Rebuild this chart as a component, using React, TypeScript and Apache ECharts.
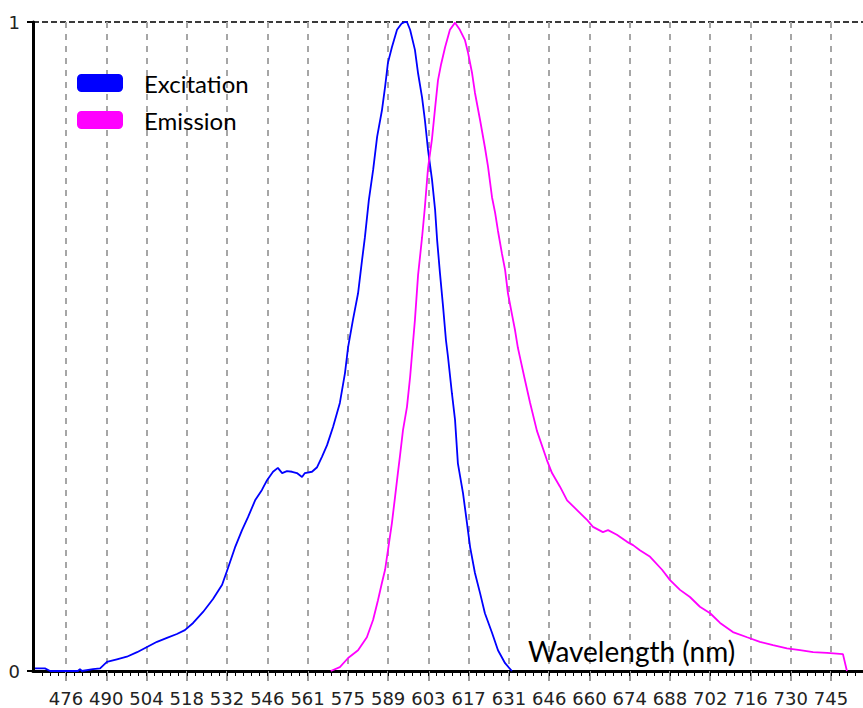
import React, { useEffect, useRef } from "react";
import * as echarts from "echarts";

// Tick labels along the wavelength axis (nm)
const tickLabels = [
  "476", "490", "504", "518", "532", "546", "561", "575", "589", "603",
  "617", "631", "646", "660", "674", "688", "702", "716", "730", "745",
];
const tickFirst = 476;
const tickLast = 745;
const xMin = 464.4;
const xMax = 756.25;
const yLabels = ["0", "1"];

// Excitation spectrum (wavelength nm, normalized intensity)
const excitationX = [
  465.1, 468.6, 470.4, 480.2, 480.9, 481.6, 485.5, 488.0, 490.4, 493.9, 497.4, 501.0, 504.5, 508.0,
  511.5, 515.0, 517.8, 520.7, 524.2, 527.7, 530.9, 533.0, 535.4, 537.9, 540.0, 542.5, 544.9, 546.7,
  548.8, 550.5, 552.0, 553.7, 555.5, 557.2, 559.0, 560.0, 562.5, 564.3, 566.0, 567.8, 569.9, 572.3,
  574.1, 575.2, 576.9, 578.7, 580.1, 581.1, 582.5, 584.0, 585.4, 587.1, 588.2, 589.2, 590.6, 592.4,
  594.1, 595.2, 595.9, 597.0, 598.7, 599.8, 601.2, 602.2, 603.3, 604.7, 605.8, 606.5, 607.5, 608.6,
  609.6, 610.3, 611.7, 612.8, 613.8, 615.6, 617.0, 618.1, 619.8, 621.6, 623.3, 625.8, 627.9, 630.4,
  632.8,
];
const excitationY = [
  0.004, 0.004, 0, 0, 0.003, 0, 0.003, 0.004, 0.014, 0.018, 0.022, 0.029, 0.037, 0.045,
  0.051, 0.057, 0.063, 0.074, 0.091, 0.111, 0.133, 0.159, 0.19, 0.217, 0.237, 0.263, 0.279, 0.294,
  0.307, 0.313, 0.305, 0.308, 0.307, 0.305, 0.299, 0.305, 0.307, 0.314, 0.33, 0.348, 0.376, 0.413,
  0.459, 0.499, 0.541, 0.582, 0.633, 0.668, 0.726, 0.772, 0.823, 0.864, 0.9, 0.937, 0.961, 0.988,
  0.998, 1.0, 1.0, 0.988, 0.957, 0.921, 0.884, 0.849, 0.803, 0.757, 0.71, 0.664, 0.613, 0.561,
  0.51, 0.485, 0.428, 0.387, 0.32, 0.274, 0.228, 0.191, 0.151, 0.12, 0.089, 0.059, 0.032, 0.012,
  0,
];

// Emission spectrum
const emissionX = [
  569.1, 572.3, 575.2, 578.7, 581.8, 584.0, 585.7, 587.1, 588.2, 589.2, 590.6, 591.7, 592.7, 593.4,
  594.5, 595.9, 597.0, 598.0, 598.7, 599.8, 601.2, 602.2, 603.3, 604.7, 605.8, 606.8, 607.9, 609.3,
  611.0, 612.8, 614.5, 616.3, 617.4, 618.8, 619.8, 621.6, 623.3, 624.4, 625.8, 626.9, 627.9, 629.3,
  630.4, 631.4, 632.8, 633.9, 634.9, 635.6, 637.4, 639.2, 641.6, 645.1, 646.9, 649.7, 652.2, 655.7,
  659.2, 661.3, 664.8, 666.6, 669.7, 673.3, 675.4, 677.8, 681.4, 685.6, 688.4, 691.9, 695.4, 698.9,
  702.5, 706.0, 710.5, 715.5, 720.0, 724.6, 729.5, 734.1, 738.7, 743.6, 749.2, 750.6,
];
const emissionY = [
  0, 0.006, 0.02, 0.032, 0.052, 0.079, 0.109, 0.136, 0.156, 0.186, 0.228, 0.268, 0.305, 0.33,
  0.371, 0.407, 0.453, 0.505, 0.541, 0.61, 0.668, 0.715, 0.775, 0.82, 0.868, 0.91, 0.935, 0.961,
  0.988, 0.999, 0.988, 0.972, 0.952, 0.921, 0.891, 0.849, 0.807, 0.777, 0.73, 0.706, 0.678, 0.643,
  0.618, 0.582, 0.55, 0.525, 0.498, 0.484, 0.448, 0.413, 0.37, 0.325, 0.305, 0.284, 0.263, 0.248,
  0.233, 0.222, 0.214, 0.217, 0.21, 0.199, 0.194, 0.186, 0.176, 0.156, 0.14, 0.125, 0.114, 0.099,
  0.089, 0.074, 0.06, 0.052, 0.045, 0.04, 0.035, 0.032, 0.029, 0.028, 0.026, 0,
];

const seriesNames = ["Excitation", "Emission"];
const seriesColors = ["#0000ff", "#ff00ff"];
const axisTitle = "Wavelength (nm)";

export default function App() {
  const ref = useRef<HTMLDivElement>(null);

  useEffect(() => {
    if (!ref.current) return;
    const chart = echarts.init(ref.current, undefined, { renderer: "svg" });

    const step = (tickLast - tickFirst) / (tickLabels.length - 1);
    const majorTicks = tickLabels.map((_, i) => tickFirst + i * step);
    const minorTicks: number[] = [];
    for (let k = -5; k <= (tickLabels.length + 4) * 5; k++) {
      const v = tickFirst + (k * step) / 5;
      if (v > xMin + 0.5 && v < xMax - 0.1) minorTicks.push(v);
    }

    const labelFont = {
      fontFamily: "DejaVu Sans, sans-serif",
      fontSize: 18,
      color: "#222",
    };

    chart.setOption({
      animation: false,
      backgroundColor: "#ffffff",
      grid: { left: 33, right: 0, top: 22, bottom: 37, containLabel: false },
      legend: {
        orient: "vertical",
        left: 72,
        top: 66,
        icon: "roundRect",
        itemWidth: 46,
        itemHeight: 18,
        itemGap: 13,
        data: seriesNames,
        textStyle: {
          fontFamily: "Lato, sans-serif",
          fontSize: 24,
          color: "#000",
          lineHeight: 24,
          padding: [0, 0, 0, 16],
        },
      },
      xAxis: [
        {
          type: "value",
          min: xMin,
          max: xMax,
          position: "bottom",
          axisLine: { show: true, onZero: false, lineStyle: { color: "#000", width: 3 } },
          axisTick: {
            show: true,
            customValues: majorTicks,
            length: 10,
            lineStyle: { color: "#999", width: 2 },
          },
          axisLabel: {
            show: true,
            customValues: majorTicks,
            margin: 18,
            ...labelFont,
            formatter: (v: number) => {
              const i = Math.round((v - tickFirst) / step);
              return tickLabels[i] ?? "";
            },
          },
          splitLine: {
            show: true,
            lineStyle: { color: "#a6a6a6", width: 2, type: [6, 6] },
          },
        },
        {
          type: "value",
          min: xMin,
          max: xMax,
          position: "bottom",
          axisLine: { show: false, onZero: false },
          axisTick: {
            show: true,
            customValues: minorTicks,
            length: 5,
            lineStyle: { color: "#000", width: 1 },
          },
          axisLabel: { show: false },
          splitLine: { show: false },
        },
      ],
      yAxis: {
        type: "value",
        min: 0,
        max: 1,
        interval: 1,
        axisLine: { show: true, onZero: false, lineStyle: { color: "#000", width: 3 } },
        axisTick: { show: true, length: 6, lineStyle: { color: "#000", width: 2 } },
        axisLabel: {
          margin: 13,
          ...labelFont,
          formatter: (v: number) => yLabels[Math.round(v)] ?? "",
        },
        splitLine: {
          show: true,
          lineStyle: { color: "#3a3a3a", width: 2, type: [6, 3] },
        },
      },
      graphic: [
        {
          type: "text",
          left: 528,
          top: 637,
          style: {
            text: axisTitle,
            fontFamily: "Lato, sans-serif",
            fontSize: 28,
            fill: "#000",
          },
          z: 10,
        },
      ],
      series: [
        {
          name: seriesNames[0],
          type: "line",
          xAxisIndex: 0,
          data: excitationX.map((x, i) => [x, excitationY[i]]),
          showSymbol: false,
          symbol: "none",
          color: seriesColors[0],
          lineStyle: { color: seriesColors[0], width: 1.8 },
          itemStyle: { color: seriesColors[0] },
          z: 3,
        },
        {
          name: seriesNames[1],
          type: "line",
          xAxisIndex: 0,
          data: emissionX.map((x, i) => [x, emissionY[i]]),
          showSymbol: false,
          symbol: "none",
          color: seriesColors[1],
          lineStyle: { color: seriesColors[1], width: 1.8 },
          itemStyle: { color: seriesColors[1] },
          z: 3,
        },
      ],
    });

    return () => chart.dispose();
  }, []);

  return (
    <div
      ref={ref}
      style={{ position: "fixed", left: 0, top: 0, width: 863, height: 708, background: "#fff" }}
    />
  );
}
